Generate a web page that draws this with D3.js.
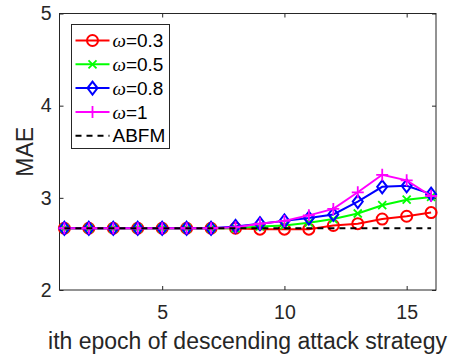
<!DOCTYPE html>
<html>
<head>
<meta charset="utf-8">
<script src="https://cdn.jsdelivr.net/npm/d3@7"></script>
<style>
  body { margin: 0; background: #fff; }
  svg { font-family: "Liberation Sans", Arial, sans-serif; }
</style>
</head>
<body>
<div id="chart"></div>
<script>
// data
const epochs = [1, 2, 3, 4, 5, 6, 7, 8, 9, 10, 11, 12, 13, 14, 15, 16];
const w03 = [2.67, 2.67, 2.67, 2.67, 2.67, 2.67, 2.67, 2.67, 2.66, 2.66, 2.66, 2.70, 2.72, 2.77, 2.80, 2.84];
const w05 = [2.67, 2.67, 2.67, 2.67, 2.67, 2.67, 2.67, 2.67, 2.69, 2.70, 2.73, 2.77, 2.83, 2.92, 2.98, 3.01];
const w08 = [2.67, 2.67, 2.67, 2.67, 2.67, 2.67, 2.67, 2.69, 2.72, 2.75, 2.78, 2.82, 2.96, 3.12, 3.13, 3.04];
const w1 = [2.67, 2.67, 2.67, 2.67, 2.67, 2.67, 2.67, 2.68, 2.72, 2.75, 2.81, 2.88, 3.06, 3.25, 3.19, 3.02];
const abfm = [2.67, 2.67, 2.67, 2.67, 2.67, 2.67, 2.67, 2.67, 2.67, 2.67, 2.67, 2.67, 2.67, 2.67, 2.67, 2.67];
const xTicks = [5, 10, 15];
const yTicks = [2, 3, 4, 5];

const series = [
  { w: "0.3", values: w03, color: "#ff0000", marker: "circle" },
  { w: "0.5", values: w05, color: "#00ff00", marker: "x" },
  { w: "0.8", values: w08, color: "#0000ff", marker: "diamond" },
  { w: "1", values: w1, color: "#ff00ff", marker: "plus" },
  { name: "ABFM", values: abfm, color: "#000000", marker: null, dash: "6,5" }
];

const W = 451, H = 356;
const margin = { top: 13.5, right: 15, bottom: 66, left: 59.5 };
const width = W - margin.left - margin.right;
const height = H - margin.top - margin.bottom;
const axisColor = "#262626";

const svg = d3.select("#chart").append("svg")
  .attr("width", W)
  .attr("height", H);

const g = svg.append("g")
  .attr("transform", `translate(${margin.left},${margin.top})`);

const x = d3.scaleLinear().domain([0.8, 16.2]).range([0, width]);
const y = d3.scaleLinear().domain([2, 5]).range([height, 0]);

// box
g.append("rect")
  .attr("width", width)
  .attr("height", height)
  .attr("fill", "none")
  .attr("stroke", axisColor)
  .attr("stroke-width", 1);

// axes with inner ticks
const xAxis = g.append("g")
  .attr("transform", `translate(0,${height})`)
  .call(d3.axisBottom(x).tickValues(xTicks).tickSize(-4).tickSizeOuter(0).tickPadding(15));
const xTop = g.append("g")
  .call(d3.axisTop(x).tickValues(xTicks).tickSize(-4).tickSizeOuter(0).tickFormat(""));
const yAxis = g.append("g")
  .call(d3.axisLeft(y).tickValues(yTicks).tickSize(-4).tickSizeOuter(0).tickPadding(8).tickFormat(d3.format("d")));
const yRight = g.append("g")
  .attr("transform", `translate(${width},0)`)
  .call(d3.axisRight(y).tickValues(yTicks).tickSize(-4).tickSizeOuter(0).tickFormat(""));

[xAxis, xTop, yAxis, yRight].forEach(a => {
  a.select(".domain").remove();
  a.selectAll("line").attr("stroke", axisColor);
  a.selectAll("text")
    .attr("fill", axisColor)
    .style("font-size", "19.5px")
    .style("font-family", "'Liberation Sans', Arial, sans-serif");
});

// marker drawing
function drawMarker(sel, type, color, cx, cy) {
  if (type === "circle") {
    sel.append("circle").attr("cx", cx).attr("cy", cy).attr("r", 5.5)
      .attr("fill", "none").attr("stroke", color).attr("stroke-width", 2);
  } else if (type === "diamond") {
    sel.append("path")
      .attr("d", `M${cx},${cy - 6.5}L${cx + 5},${cy}L${cx},${cy + 6.5}L${cx - 5},${cy}Z`)
      .attr("fill", "none").attr("stroke", color).attr("stroke-width", 2);
  } else if (type === "x") {
    const s = 4;
    sel.append("path")
      .attr("d", `M${cx - s},${cy - s}L${cx + s},${cy + s}M${cx - s},${cy + s}L${cx + s},${cy - s}`)
      .attr("stroke", color).attr("stroke-width", 1.8);
  } else if (type === "plus") {
    const s = 6;
    sel.append("path")
      .attr("d", `M${cx - s},${cy}L${cx + s},${cy}M${cx},${cy - s}L${cx},${cy + s}`)
      .attr("stroke", color).attr("stroke-width", 1.8);
  }
}

const line = d3.line()
  .x((d, i) => x(epochs[i]))
  .y(d => y(d));

series.forEach(s => {
  const sg = g.append("g");
  sg.append("path")
    .datum(s.values)
    .attr("d", line)
    .attr("fill", "none")
    .attr("stroke", s.color)
    .attr("stroke-width", 2)
    .attr("stroke-dasharray", s.dash || null);
  if (s.marker) {
    s.values.forEach((v, i) => drawMarker(sg, s.marker, s.color, x(epochs[i]), y(v)));
  }
});

// legend
const lg = svg.append("g").attr("transform", "translate(71.5,24.5)");
lg.append("rect")
  .attr("width", 98)
  .attr("height", 124)
  .attr("fill", "#fff")
  .attr("stroke", axisColor)
  .attr("stroke-width", 1);

series.forEach((s, i) => {
  const cy = 16 + i * 23.8;
  lg.append("line")
    .attr("x1", 4).attr("x2", 38)
    .attr("y1", cy).attr("y2", cy)
    .attr("stroke", s.color)
    .attr("stroke-width", 2)
    .attr("stroke-dasharray", s.dash || null);
  if (s.marker) drawMarker(lg, s.marker, s.color, 21, cy);
  const t = lg.append("text")
    .attr("x", 41)
    .attr("y", cy)
    .attr("dy", "0.35em")
    .style("font-size", "19px")
    .attr("fill", "#000");
  if (s.w) {
    t.append("tspan")
      .style("font-family", "'Liberation Serif', 'Times New Roman', serif")
      .style("font-style", "italic")
      .text("\u03c9");
    t.append("tspan").text("=" + s.w);
  } else {
    t.text(s.name);
  }
});

// axis labels
svg.append("text")
  .attr("x", 247.5)
  .attr("y", 348.5)
  .attr("text-anchor", "middle")
  .style("font-size", "23px")
  .attr("fill", axisColor)
  .text("ith epoch of descending attack strategy");

svg.append("text")
  .attr("transform", `translate(33,${margin.top + height / 2}) rotate(-90)`)
  .attr("text-anchor", "middle")
  .style("font-size", "23px")
  .attr("fill", axisColor)
  .text("MAE");
</script>
</body>
</html>
